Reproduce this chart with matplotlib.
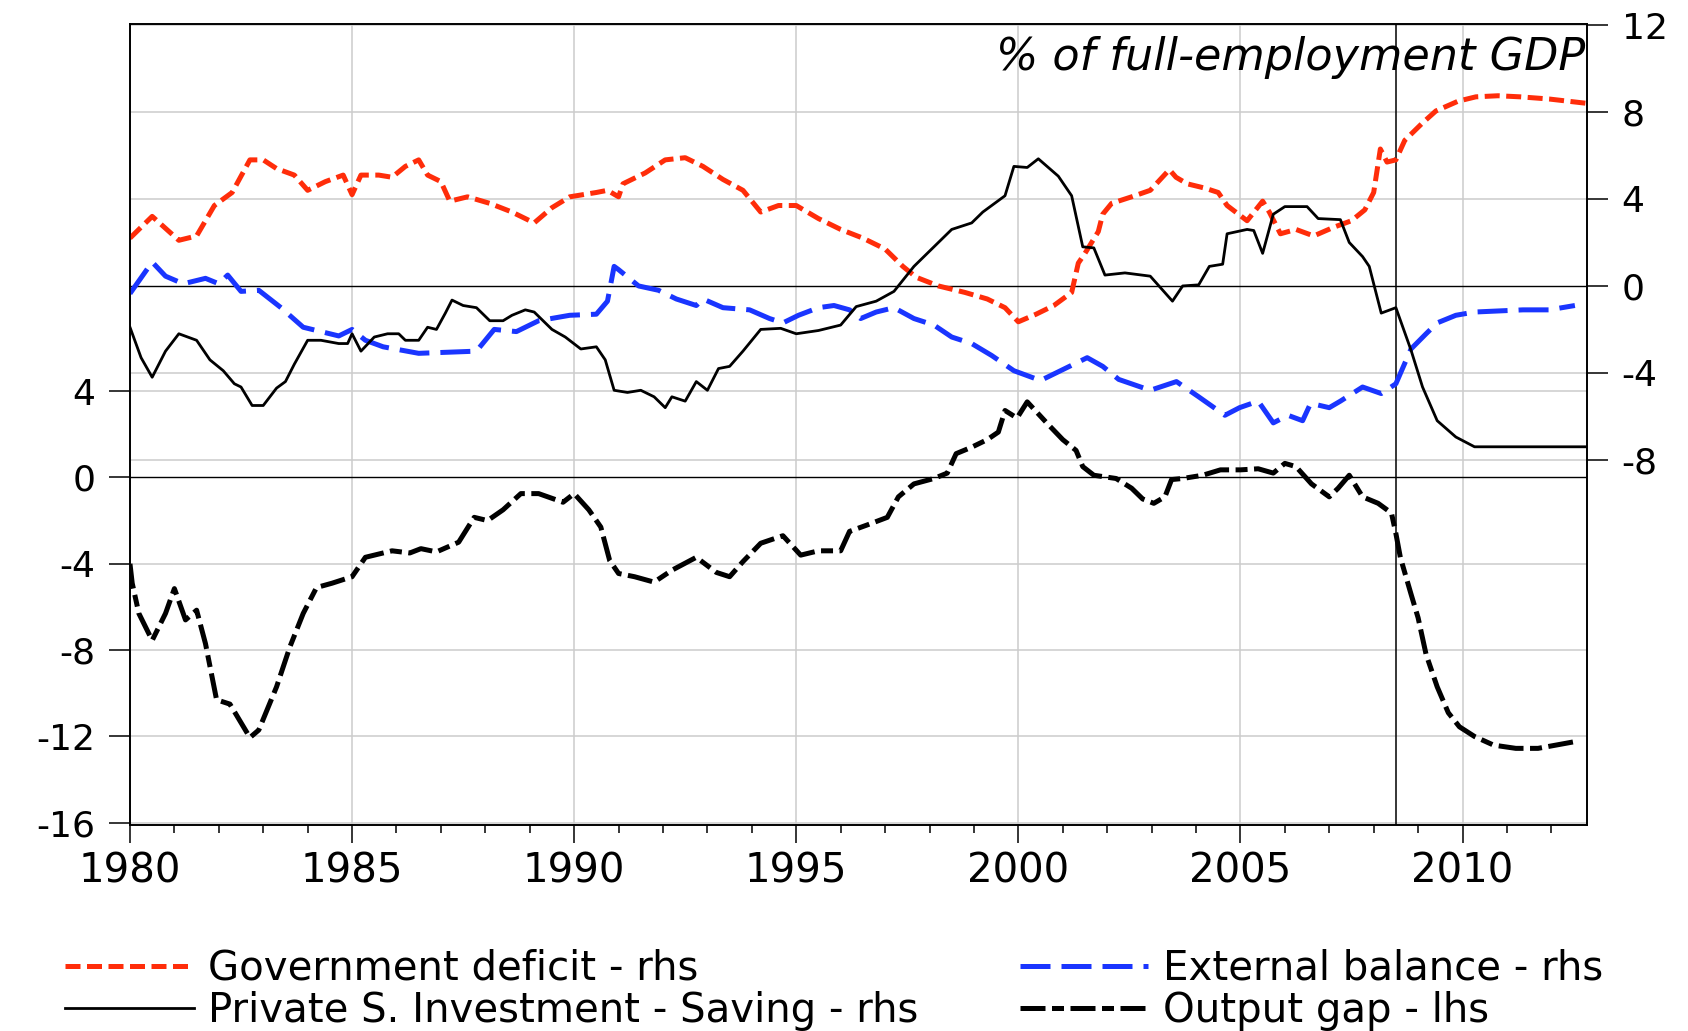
import matplotlib.pyplot as plt
from matplotlib.ticker import FixedLocator, MultipleLocator
from matplotlib.transforms import blended_transform_factory

# values, % of full-employment GDP
gov_year = [1980.0, 1980.5, 1981.1, 1981.5, 1981.9, 1982.3, 1982.7, 1983.0, 1983.3, 1983.7,
            1984.0, 1984.4, 1984.8, 1985.0, 1985.2, 1985.6, 1985.9, 1986.2, 1986.5, 1986.7,
            1987.0, 1987.2, 1987.6, 1988.1, 1988.6, 1989.1, 1989.5, 1989.9, 1990.5, 1990.75,
            1991.0, 1991.1, 1991.6, 1992.05, 1992.5, 1992.9, 1993.35, 1993.8, 1994.2, 1994.6,
            1995.0, 1995.5, 1996.0, 1996.5, 1997.0, 1997.4, 1997.7, 1998.2, 1998.8, 1999.3,
            1999.7, 2000.0, 2000.4, 2000.8, 2001.2, 2001.35, 2001.5, 2001.8, 2001.9, 2002.1,
            2002.55, 2002.97, 2003.4, 2003.55, 2003.8, 2004.2, 2004.5, 2004.7, 2005.15, 2005.5,
            2005.65, 2005.9, 2006.25, 2006.65, 2007.1, 2007.5, 2007.8, 2008.0, 2008.15, 2008.3,
            2008.5, 2008.7, 2009.1, 2009.4, 2009.9, 2010.3, 2010.8, 2011.3, 2011.95, 2012.8]
gov_deficit = [2.2, 3.2, 2.1, 2.3, 3.7, 4.3, 5.8, 5.8, 5.4, 5.1,
               4.4, 4.8, 5.1, 4.2, 5.1, 5.1, 5.0, 5.5, 5.8, 5.1,
               4.8, 3.9, 4.1, 3.8, 3.4, 2.9, 3.6, 4.1, 4.3, 4.4,
               4.1, 4.7, 5.2, 5.8, 5.9, 5.5, 4.9, 4.4, 3.4, 3.7,
               3.7, 3.1, 2.6, 2.2, 1.7, 0.9, 0.4, 0.0, -0.3, -0.6,
               -1.0, -1.65, -1.3, -0.9, -0.3, 1.05, 1.5, 2.5, 3.3, 3.8,
               4.1, 4.4, 5.35, 5.0, 4.7, 4.5, 4.3, 3.7, 3.0, 3.9,
               3.4, 2.4, 2.6, 2.3, 2.7, 3.0, 3.5, 4.3, 6.3, 5.7,
               5.8, 6.7, 7.5, 8.05, 8.5, 8.7, 8.75, 8.7, 8.6, 8.4]

ext_year = [1980.0, 1980.5, 1980.8, 1981.2, 1981.7, 1982.0, 1982.2, 1982.5, 1982.9, 1983.4,
            1983.9, 1984.3, 1984.7, 1985.0, 1985.3, 1985.7, 1986.5, 1987.8, 1988.2, 1988.7,
            1989.2, 1989.9, 1990.5, 1990.75, 1990.9, 1991.0, 1991.45, 1991.9, 1992.3, 1992.75,
            1992.9, 1993.35, 1993.95, 1994.4, 1994.7, 1995.05, 1995.5, 1995.85, 1996.2, 1996.45,
            1996.8, 1997.2, 1997.65, 1998.1, 1998.5, 1998.95, 1999.4, 1999.9, 2000.5, 2000.9,
            2001.55, 2001.9, 2002.26, 2002.97, 2003.56, 2004.06, 2004.65, 2004.98, 2005.4, 2005.74,
            2006.07, 2006.4, 2006.58, 2007.0, 2007.25, 2007.75, 2008.17, 2008.5, 2008.84, 2009.18,
            2009.43, 2009.85, 2010.27, 2011.36, 2011.95, 2012.53]
ext_balance = [-0.35, 1.1, 0.45, 0.1, 0.35, 0.1, 0.5, -0.25, -0.2, -1.0,
               -1.9, -2.1, -2.3, -2.0, -2.5, -2.8, -3.1, -3.0, -2.0, -2.1,
               -1.6, -1.35, -1.3, -0.7, 0.9, 0.75, 0.0, -0.2, -0.6, -0.9,
               -0.6, -1.0, -1.1, -1.5, -1.7, -1.35, -1.0, -0.9, -1.1, -1.5,
               -1.2, -1.0, -1.5, -1.8, -2.35, -2.65, -3.2, -3.9, -4.35, -3.95,
               -3.3, -3.7, -4.3, -4.8, -4.4, -5.1, -5.95, -5.6, -5.3, -6.3,
               -5.95, -6.2, -5.4, -5.6, -5.3, -4.65, -4.95, -4.5, -2.9, -2.2,
               -1.7, -1.35, -1.2, -1.1, -1.1, -0.9]

priv_year = [1980.0, 1980.25, 1980.5, 1980.8, 1981.1, 1981.5, 1981.8, 1982.1, 1982.35, 1982.5,
             1982.75, 1983.0, 1983.3, 1983.5, 1983.7, 1984.0, 1984.3, 1984.7, 1984.9, 1985.0,
             1985.2, 1985.5, 1985.8, 1986.05, 1986.2, 1986.5, 1986.7, 1986.9, 1987.1, 1987.25,
             1987.5, 1987.8, 1988.1, 1988.4, 1988.6, 1988.9, 1989.1, 1989.5, 1989.8, 1990.15,
             1990.5, 1990.7, 1990.9, 1991.2, 1991.5, 1991.8, 1992.05, 1992.2, 1992.5, 1992.75,
             1993.0, 1993.25, 1993.5, 1993.8, 1994.2, 1994.65, 1995.0, 1995.5, 1996.0, 1996.35,
             1996.8, 1997.2, 1997.65, 1998.1, 1998.5, 1998.95, 1999.2, 1999.7, 1999.9, 2000.2,
             2000.45, 2000.9, 2001.2, 2001.45, 2001.7, 2001.95, 2002.4, 2002.97, 2003.47, 2003.7,
             2004.06, 2004.3, 2004.6, 2004.7, 2005.15, 2005.3, 2005.5, 2005.74, 2006.0, 2006.5,
             2006.75, 2007.25, 2007.45, 2007.75, 2007.9, 2008.17, 2008.5, 2008.84, 2009.1, 2009.43,
             2009.85, 2010.27, 2012.8]
priv_inv_sav = [-1.9, -3.3, -4.2, -3.0, -2.2, -2.5, -3.4, -3.9, -4.5, -4.65,
                -5.5, -5.5, -4.7, -4.4, -3.6, -2.5, -2.5, -2.65, -2.65, -2.2,
                -3.0, -2.35, -2.2, -2.2, -2.5, -2.5, -1.9, -2.0, -1.25, -0.65,
                -0.9, -1.0, -1.6, -1.6, -1.35, -1.1, -1.2, -2.0, -2.35, -2.9,
                -2.8, -3.4, -4.8, -4.9, -4.8, -5.1, -5.6, -5.1, -5.3, -4.4,
                -4.8, -3.8, -3.7, -3.0, -2.0, -1.95, -2.2, -2.05, -1.8, -0.95,
                -0.7, -0.25, 0.9, 1.8, 2.6, 2.9, 3.4, 4.15, 5.5, 5.45,
                5.85, 5.05, 4.15, 1.8, 1.75, 0.5, 0.6, 0.45, -0.7, 0.0,
                0.05, 0.9, 1.0, 2.4, 2.6, 2.55, 1.5, 3.3, 3.65, 3.65,
                3.1, 3.05, 2.0, 1.35, 0.9, -1.25, -1.0, -2.95, -4.65, -6.2,
                -6.95, -7.4, -7.4]

gap_year = [1980.0, 1980.05, 1980.2, 1980.5, 1980.8, 1981.0, 1981.25, 1981.5, 1981.7, 1981.95,
            1982.25, 1982.7, 1982.9, 1983.3, 1983.6, 1983.9, 1984.2, 1984.55, 1985.0, 1985.3,
            1985.9, 1986.3, 1986.55, 1986.9, 1987.4, 1987.75, 1988.05, 1988.4, 1988.8, 1989.2,
            1989.75, 1990.0, 1990.33, 1990.6, 1990.8, 1991.0, 1991.36, 1991.8, 1992.2, 1992.75,
            1993.2, 1993.5, 1993.8, 1994.2, 1994.7, 1995.1, 1995.5, 1996.0, 1996.2, 1996.6,
            1997.05, 1997.3, 1997.65, 1998.1, 1998.4, 1998.6, 1998.95, 1999.3, 1999.55, 1999.7,
            1999.97, 2000.2, 2000.65, 2001.0, 2001.3, 2001.45, 2001.7, 2002.2, 2002.55, 2002.8,
            2003.05, 2003.3, 2003.45, 2003.7, 2004.15, 2004.55, 2005.0, 2005.4, 2005.74, 2006.0,
            2006.25, 2006.6, 2007.0, 2007.2, 2007.45, 2007.75, 2008.1, 2008.4, 2008.5, 2008.6,
            2008.84, 2009.0, 2009.18, 2009.43, 2009.68, 2009.93, 2010.27, 2010.7, 2011.2, 2011.7,
            2012.1, 2012.5]
output_gap = [-4.0, -4.9, -6.3, -7.55, -6.3, -5.15, -6.6, -6.15, -7.7, -10.3,
              -10.5, -12.05, -11.7, -9.7, -7.85, -6.3, -5.1, -4.9, -4.6, -3.7,
              -3.4, -3.5, -3.3, -3.45, -3.0, -1.85, -2.0, -1.5, -0.75, -0.75,
              -1.15, -0.75, -1.5, -2.3, -3.85, -4.45, -4.6, -4.85, -4.3, -3.7,
              -4.4, -4.6, -3.9, -3.05, -2.7, -3.6, -3.4, -3.4, -2.5, -2.2,
              -1.85, -0.9, -0.3, -0.05, 0.2, 1.1, 1.4, 1.75, 2.1, 3.1,
              2.75, 3.5, 2.5, 1.75, 1.25, 0.5, 0.1, -0.05, -0.5, -1.0,
              -1.2, -0.9, -0.1, -0.05, 0.1, 0.35, 0.35, 0.4, 0.2, 0.65,
              0.5, -0.3, -0.9, -0.5, 0.1, -0.9, -1.2, -1.65, -2.6, -3.7,
              -5.4, -6.5, -8.2, -9.7, -10.9, -11.55, -12.0, -12.4, -12.55, -12.55,
              -12.4, -12.25]

year_ticks = [1980, 1985, 1990, 1995, 2000, 2005, 2010]
lhs_ticks = [4, 0, -4, -8, -12, -16]
rhs_ticks = [12, 8, 4, 0, -4, -8]
crisis_year = 2008.5

RED = "#ff2d0a"
BLUE = "#1a35ff"
GRID = "#cccccc"

plt.rcParams["font.family"] = "DejaVu Sans"
plt.rcParams["axes.unicode_minus"] = False

fig = plt.figure(figsize=(16.88, 10.31), dpi=100)
ax = fig.add_axes([0.0770, 0.1998, 0.8631, 0.7769])
ax2 = ax.twinx()

ax.set_xlim(1980.0, 2012.8)
ax.set_ylim(-16.1, 21.0)
ax2.set_ylim(-24.8, 12.05)

# grid lines, all kept under the data
for yr in year_ticks:
    ax.axvline(yr, color=GRID, lw=1.1, zorder=0)
for v in lhs_ticks:
    if v != 0:
        ax.axhline(v, color=GRID, lw=1.1, zorder=0)
rhs_trans = blended_transform_factory(ax.transAxes, ax2.transData)
for v in rhs_ticks:
    if v != 0:
        ax.plot([0, 1], [v, v], transform=rhs_trans, color=GRID, lw=1.1, zorder=0)
ax.axhline(0, color="black", lw=1.0, zorder=1)
ax.plot([0, 1], [0, 0], transform=rhs_trans, color="black", lw=1.0, zorder=1)
ax.axvline(crisis_year, color="black", lw=1.1, zorder=1)

l_gap, = ax.plot(gap_year, output_gap, color="black", lw=3.6,
                 dashes=(5.0, 1.3, 2.4, 1.3), label="Output gap - lhs", zorder=3)
l_gov, = ax2.plot(gov_year, gov_deficit, color=RED, lw=3.6,
                  dashes=(3.0, 1.3), label="Government deficit - rhs")
l_ext, = ax2.plot(ext_year, ext_balance, color=BLUE, lw=3.6,
                  dashes=(6.0, 2.2), label="External balance - rhs")
l_priv, = ax2.plot(priv_year, priv_inv_sav, color="black", lw=2.0,
                   label="Private S. Investment - Saving - rhs")

ax.xaxis.set_major_locator(FixedLocator(year_ticks))
ax.xaxis.set_minor_locator(MultipleLocator(1))
ax.yaxis.set_major_locator(FixedLocator(lhs_ticks))
ax2.yaxis.set_major_locator(FixedLocator(rhs_ticks))

ax.tick_params(axis="x", which="major", direction="out", length=13, width=1.1,
               labelsize=29, pad=6)
ax.tick_params(axis="x", which="minor", direction="out", length=6, width=1.1)
ax.tick_params(axis="y", direction="out", length=15, width=1.1, labelsize=26, pad=10)
ax2.tick_params(axis="y", direction="out", length=15, width=1.1, labelsize=26, pad=10)

for a in (ax, ax2):
    for s in a.spines.values():
        s.set_linewidth(1.2)
        s.set_color("black")

ax.text(0.999, 0.943, "% of full-employment GDP", transform=ax.transAxes,
        ha="right", va="baseline", fontsize=32, fontstyle="italic")

leg_kw = dict(loc="center left", frameon=False, fontsize=29, handlelength=3.2,
              handletextpad=0.35, labelspacing=0.05, borderpad=0, borderaxespad=0)
fig.legend(handles=[l_gov, l_priv], bbox_to_anchor=(0.0385, 0.040), **leg_kw)
fig.legend(handles=[l_ext, l_gap], bbox_to_anchor=(0.604, 0.040), **leg_kw)

fig.savefig("out.png", dpi=100)
